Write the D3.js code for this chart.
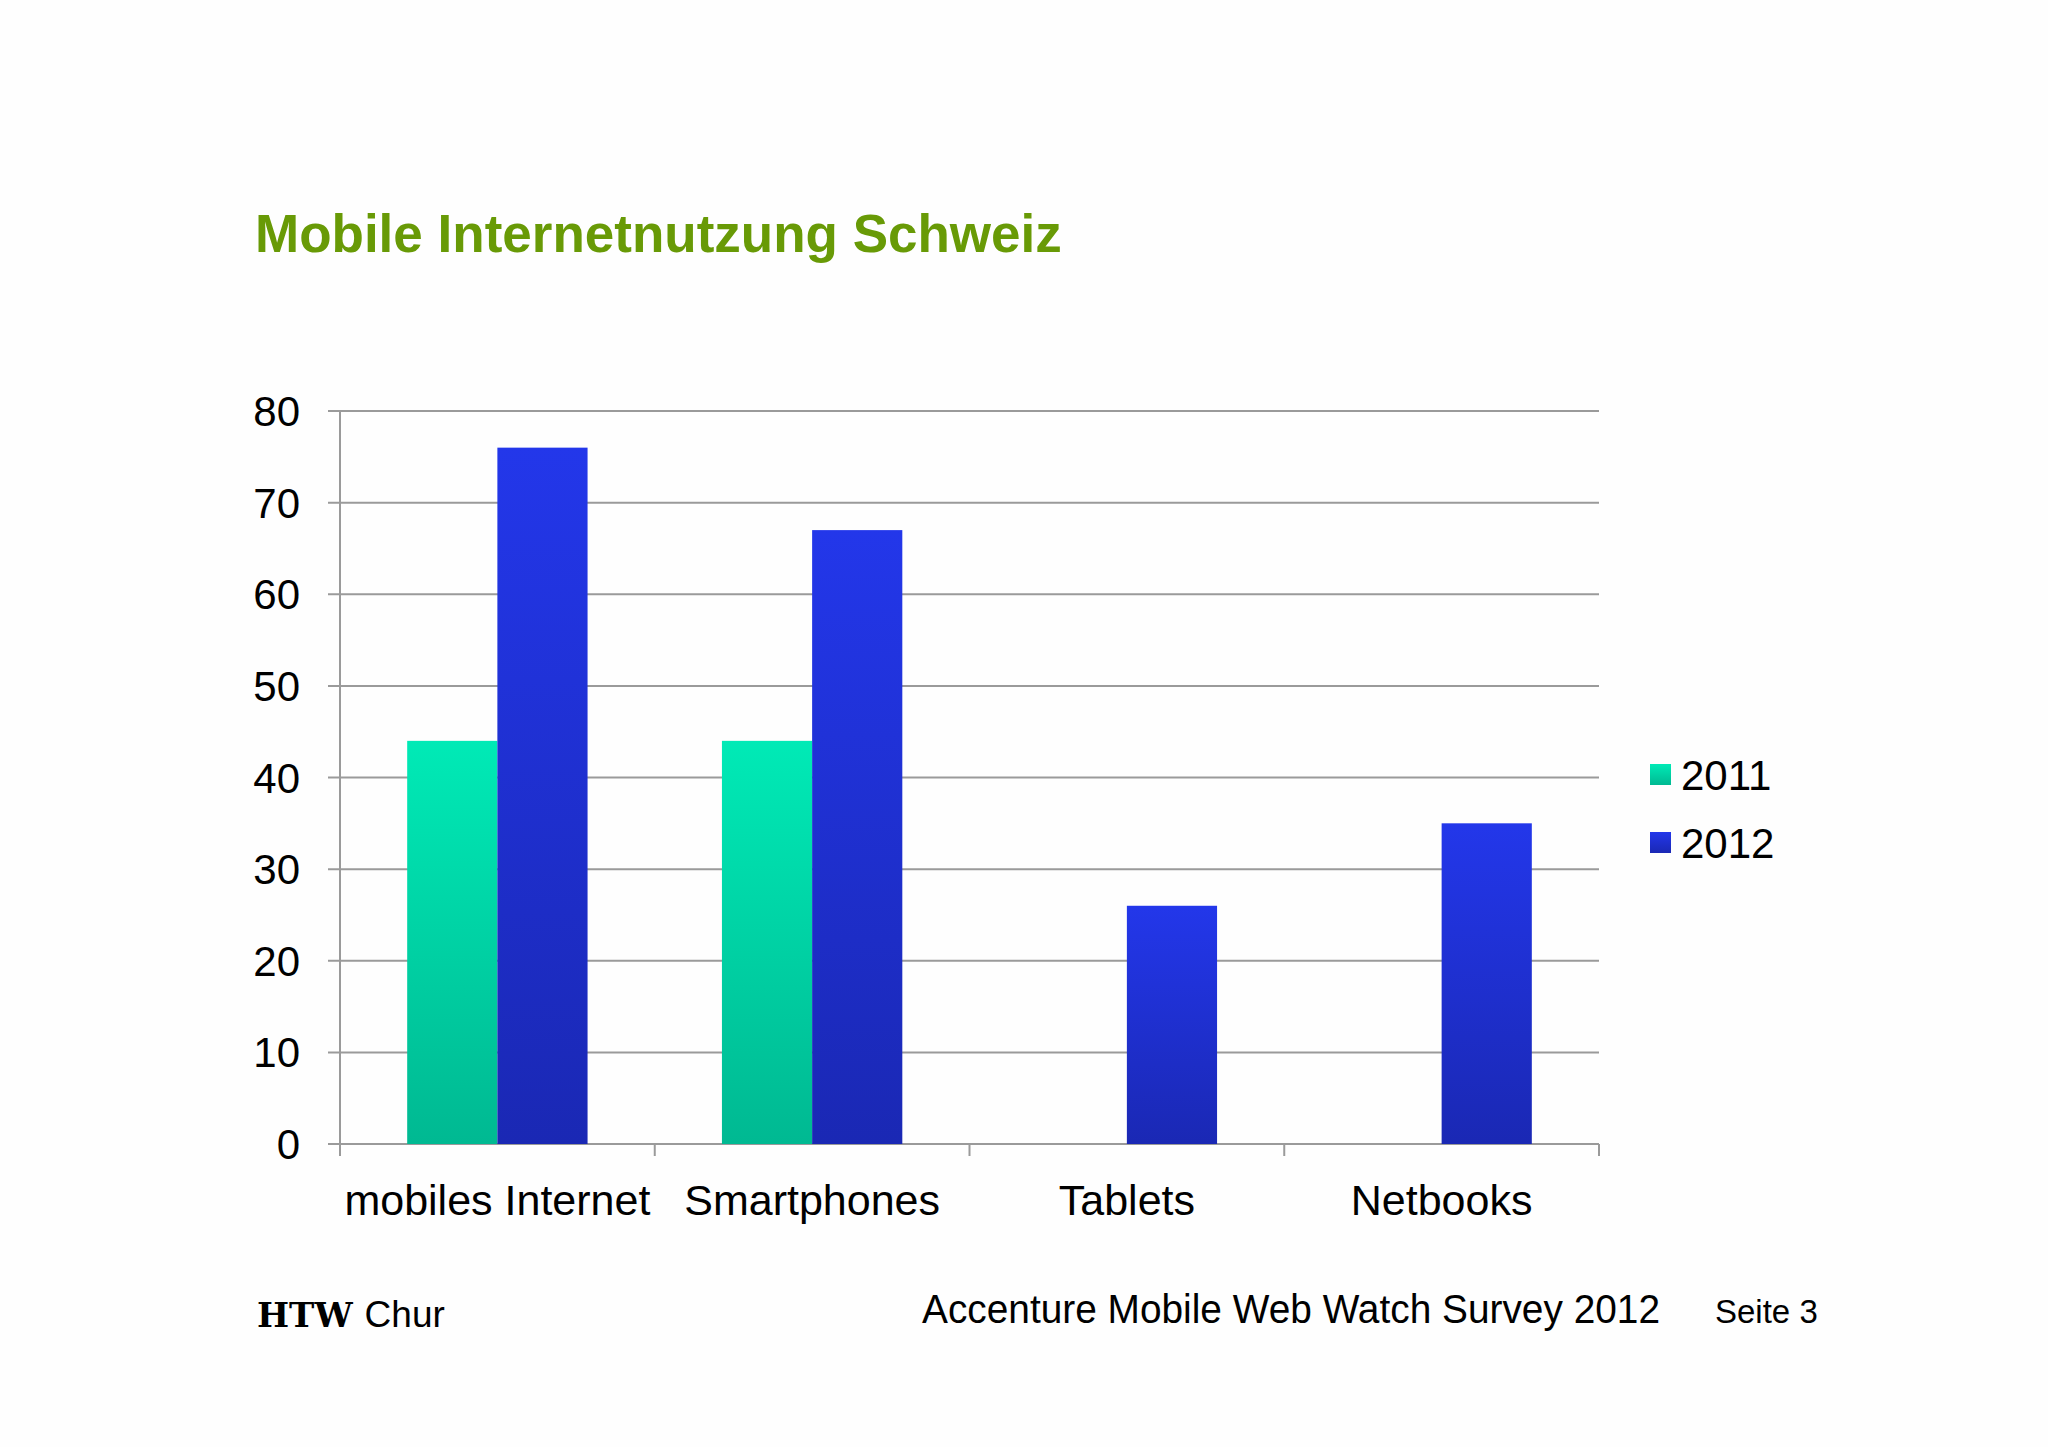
<!DOCTYPE html>
<html>
<head>
<meta charset="utf-8">
<script src="https://cdn.jsdelivr.net/npm/d3@7"></script>
<style>
  html, body { margin: 0; padding: 0; background: #fefefe; }
  svg { display: block; }
</style>
</head>
<body>
<svg id="chart" width="2048" height="1447"></svg>
<script>
const categories = ["mobiles Internet", "Smartphones", "Tablets", "Netbooks"];
const seriesNames = ["2011", "2012"];
const values2011 = [44, 44, null, null];
const values2012 = [76, 67, 26, 35];
const yTicks = [0, 10, 20, 30, 40, 50, 60, 70, 80];
const titleText = "Mobile Internetnutzung Schweiz";
const footerSource = "Accenture Mobile Web Watch Survey 2012";
const footerPage = "Seite 3";

(function () {
const svg = d3.select("#chart");
const W = 2048, H = 1447;
const pLeft = 340, pRight = 1599, pTop = 411, pBottom = 1144;
const font = "'Liberation Sans', Arial, Helvetica, sans-serif";

svg.append("rect").attr("width", W).attr("height", H).attr("fill", "#fefefe");

// gradients
const defs = svg.append("defs");
const g1 = defs.append("linearGradient").attr("id", "grad2011").attr("x1", 0).attr("y1", 0).attr("x2", 0).attr("y2", 1);
g1.append("stop").attr("offset", "0%").attr("stop-color", "#00eab6");
g1.append("stop").attr("offset", "100%").attr("stop-color", "#00b992");
const g2 = defs.append("linearGradient").attr("id", "grad2012").attr("x1", 0).attr("y1", 0).attr("x2", 0).attr("y2", 1);
g2.append("stop").attr("offset", "0%").attr("stop-color", "#2337ea");
g2.append("stop").attr("offset", "100%").attr("stop-color", "#1a28b4");
const fills = { "2011": "url(#grad2011)", "2012": "url(#grad2012)" };

// title
svg.append("text")
  .attr("x", 255).attr("y", 252)
  .attr("font-family", font).attr("font-weight", "bold")
  .attr("font-size", 53).attr("fill", "#689a06")
  .text(titleText);

const x = d3.scaleBand().domain(categories).range([pLeft, pRight]).paddingInner(0).paddingOuter(0);
const x1 = d3.scaleBand().domain(seriesNames).range([0, x.bandwidth()]).paddingInner(0).paddingOuter(0.745);
const y = d3.scaleLinear().domain([0, 80]).range([pBottom, pTop]);

// gridlines
svg.append("g").selectAll("line").data(yTicks).join("line")
  .attr("x1", pLeft - 12).attr("x2", pRight)
  .attr("y1", d => y(d)).attr("y2", d => y(d))
  .attr("stroke", "#9a9a9a").attr("stroke-width", 2);

// y axis line
svg.append("line").attr("x1", pLeft).attr("x2", pLeft).attr("y1", pTop).attr("y2", pBottom + 12)
  .attr("stroke", "#9a9a9a").attr("stroke-width", 2);

// x ticks at band boundaries
const bounds = categories.map(c => x(c)).concat([pRight]);
svg.append("g").selectAll("line").data(bounds).join("line")
  .attr("x1", d => d).attr("x2", d => d)
  .attr("y1", pBottom).attr("y2", pBottom + 12)
  .attr("stroke", "#9a9a9a").attr("stroke-width", 2);

// y tick labels
svg.append("g").selectAll("text").data(yTicks).join("text")
  .attr("x", 300).attr("y", d => y(d)).attr("dy", "0.36em")
  .attr("text-anchor", "end")
  .attr("font-family", font).attr("font-size", 42).attr("fill", "#000")
  .text(d => d);

// bars
const rows = categories.map((c, i) => ({ cat: c, vals: [
  { s: "2011", v: values2011[i] }, { s: "2012", v: values2012[i] } ] }));
const groups = svg.append("g").selectAll("g").data(rows).join("g")
  .attr("transform", d => `translate(${x(d.cat)},0)`);
groups.selectAll("rect").data(d => d.vals.filter(e => e.v != null)).join("rect")
  .attr("x", d => x1(d.s)).attr("width", x1.bandwidth())
  .attr("y", d => y(d.v)).attr("height", d => y(0) - y(d.v))
  .attr("fill", d => fills[d.s]);

// category labels
svg.append("g").selectAll("text").data(categories).join("text")
  .attr("x", d => x(d) + x.bandwidth() / 2).attr("y", 1215)
  .attr("text-anchor", "middle")
  .attr("font-family", font).attr("font-size", 43).attr("fill", "#000")
  .text(d => d);

// legend
const legend = svg.append("g").selectAll("g").data(seriesNames).join("g")
  .attr("transform", (d, i) => `translate(1650, ${764 + i * 68})`);
legend.append("rect").attr("width", 21).attr("height", 21).attr("fill", d => fills[d]);
legend.append("text").attr("x", 31).attr("y", 11).attr("dy", "0.36em")
  .attr("font-family", font).attr("font-size", 42).attr("fill", "#000")
  .text(d => d);

// footer
const htw = svg.append("text").attr("x", 257).attr("y", 1327)
  .attr("font-size", 34).attr("fill", "#000");
htw.append("tspan").attr("font-family", "'DejaVu Serif', serif").attr("font-weight", "bold").text("HTW");
htw.append("tspan").attr("font-family", font).attr("dx", 12).attr("font-size", 37).text("Chur");

svg.append("text").attr("x", 922).attr("y", 1323)
  .attr("font-family", font).attr("font-size", 40).attr("fill", "#000")
  .attr("textLength", 738).attr("lengthAdjust", "spacingAndGlyphs")
  .text(footerSource);
svg.append("text").attr("x", 1715).attr("y", 1323)
  .attr("font-family", font).attr("font-size", 33).attr("fill", "#000")
  .text(footerPage);
})();
</script>
</body>
</html>
